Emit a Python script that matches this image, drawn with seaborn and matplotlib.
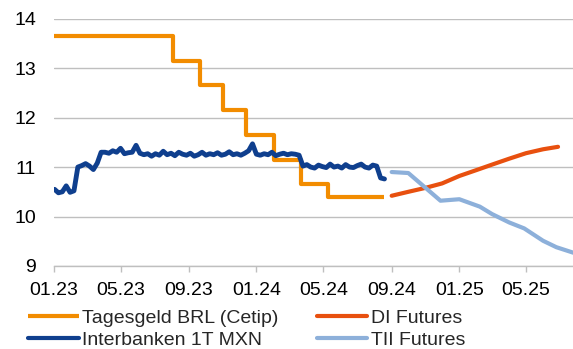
import matplotlib
matplotlib.use("Agg")
import matplotlib.pyplot as plt
import matplotlib.dates as mdates
import pandas as pd
import seaborn as sns

# --- Brazilian overnight rate (Cetip/CDI), step changes ---
brl_dates = ["2023-01-01", "2023-08-03", "2023-09-21", "2023-11-02", "2023-12-14",
             "2024-02-01", "2024-03-21", "2024-05-09", "2024-08-19"]
brl_values = [13.65, 13.15, 12.65, 12.15, 11.65, 11.15, 10.65, 10.40, 10.40]

# --- Mexican interbank overnight rate, weekly observations ---
mxn_start = "2023-01-02"
mxn_values = [
    10.55, 10.48, 10.50, 10.62, 10.49, 10.52,
    11.00, 11.03, 11.07, 11.02, 10.95, 11.08, 11.30,
    11.30, 11.28, 11.33, 11.30, 11.38, 11.27, 11.29, 11.30, 11.44,
    11.28, 11.25, 11.27, 11.22, 11.27, 11.24, 11.32, 11.25, 11.28,
    11.23, 11.30, 11.26, 11.24, 11.28, 11.22, 11.25, 11.30, 11.24,
    11.27, 11.25, 11.29, 11.24, 11.26, 11.31, 11.25, 11.27, 11.24,
    11.28, 11.33, 11.47, 11.26, 11.24, 11.27, 11.25, 11.30, 11.23,
    11.26, 11.28, 11.25, 11.27, 11.26, 11.24,
    11.02, 11.05, 11.00, 10.98, 11.04, 11.01, 10.99, 11.06, 11.00,
    11.02, 10.98, 11.05, 11.00, 10.99, 11.03, 11.06, 11.00, 10.98,
    11.04, 11.02, 10.78, 10.76,
]

# --- DI futures curve (BRL) ---
di_dates = ["2024-09-01", "2024-10-01", "2024-11-01", "2024-12-01", "2025-01-01",
            "2025-02-01", "2025-03-01", "2025-04-01", "2025-05-01", "2025-06-01",
            "2025-06-28"]
di_values = [10.42, 10.50, 10.58, 10.67, 10.82, 10.94, 11.05, 11.17, 11.28, 11.36, 11.41]

# --- TIIE futures curve (MXN) ---
tii_dates = ["2024-09-01", "2024-10-01", "2024-11-28", "2025-01-01", "2025-02-07",
             "2025-03-01", "2025-04-01", "2025-04-28", "2025-06-01", "2025-06-25",
             "2025-07-28"]
tii_values = [10.90, 10.88, 10.32, 10.35, 10.20, 10.05, 9.88, 9.76, 9.51, 9.38, 9.26]

tick_dates = ["2023-01-01", "2023-05-01", "2023-09-01", "2024-01-01",
              "2024-05-01", "2024-09-01", "2025-01-01", "2025-05-01"]
y_ticks = [9, 10, 11, 12, 13, 14]

labels = ["Tagesgeld BRL (Cetip)", "DI Futures", "Interbanken 1T MXN", "TII Futures"]
colors = {"Tagesgeld BRL (Cetip)": "#F28C00",
          "DI Futures": "#E8500F",
          "Interbanken 1T MXN": "#0F3F8E",
          "TII Futures": "#8DB0DA"}

sns.set_theme(style="white")
plt.rcParams["font.family"] = ["Liberation Sans", "DejaVu Sans"]

brl = pd.DataFrame({"date": pd.to_datetime(brl_dates), "value": brl_values})
mxn = pd.DataFrame({"date": pd.date_range(mxn_start, periods=len(mxn_values), freq="7D"),
                    "value": mxn_values})
di = pd.DataFrame({"date": pd.to_datetime(di_dates), "value": di_values})
tii = pd.DataFrame({"date": pd.to_datetime(tii_dates), "value": tii_values})

fig = plt.figure(figsize=(5.73, 3.49), dpi=100)
ax = fig.add_axes([54 / 573, 1 - 266 / 349, 1 - 54 / 573, (266 - 18.7) / 349])

lw = 3
sns.lineplot(data=brl, x="date", y="value", ax=ax, color=colors[labels[0]], lw=lw,
             drawstyle="steps-post", label=labels[0], solid_capstyle="butt")
sns.lineplot(data=di, x="date", y="value", ax=ax, color=colors[labels[1]], lw=lw,
             label=labels[1], solid_capstyle="round")
sns.lineplot(data=mxn, x="date", y="value", ax=ax, color=colors[labels[2]], lw=3.5,
             label=labels[2], solid_capstyle="round", solid_joinstyle="round")
sns.lineplot(data=tii, x="date", y="value", ax=ax, color=colors[labels[3]], lw=lw,
             label=labels[3], solid_capstyle="round")

ax.set_xlim(pd.Timestamp("2023-01-01"), pd.Timestamp("2025-07-25"))
ax.set_ylim(9, 14)
ax.set_yticks(y_ticks)
ax.set_xticks(pd.to_datetime(tick_dates))
ax.xaxis.set_major_formatter(mdates.DateFormatter("%m.%y"))
ax.set_xlabel("")
ax.set_ylabel("")

ax.grid(axis="y", color="#BFBFBF", lw=1)
ax.grid(axis="x", visible=False)
for side in ["top", "right", "left"]:
    ax.spines[side].set_visible(False)
ax.spines["bottom"].set_color("#BFBFBF")
ax.spines["bottom"].set_linewidth(1)
ax.set_axisbelow(True)

ax.tick_params(axis="x", direction="out", length=4, width=1, color="#BFBFBF",
               labelsize=14, pad=7.2, labelcolor="#000000", bottom=True)
ax.tick_params(axis="y", length=0, labelsize=14, pad=13, labelcolor="#000000")

ax.get_legend().remove()
handles, _ = ax.get_legend_handles_labels()
order = [0, 2, 1, 3]
leg = fig.legend([handles[i] for i in order], [labels[i] for i in order],
                 loc="upper left", bbox_to_anchor=(28 / 573, 1 - 309.3 / 349),
                 ncol=2, frameon=False, fontsize=14, handlelength=2.6,
                 handletextpad=0.2, columnspacing=1.94, labelspacing=0.24,
                 borderaxespad=0, borderpad=0)
for line in leg.get_lines():
    line.set_linewidth(3)

fig.savefig("out.png", dpi=100)
